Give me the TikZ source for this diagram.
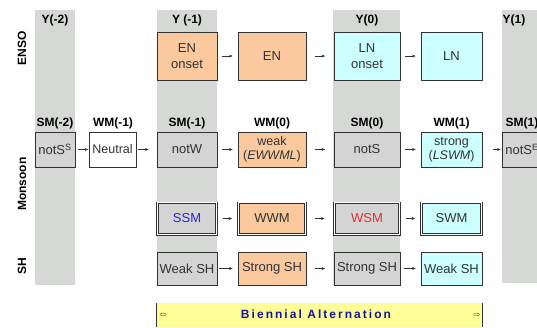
\documentclass[tikz,border=0pt]{standalone}
\usepackage{fontspec}
\setmainfont{Liberation Sans}
\newfontfamily\dejavu{DejaVu Sans}
\newfontfamily\spacedfont{Liberation Sans}[LetterSpace=17]
\usetikzlibrary{arrows.meta}
\definecolor{orng}{RGB}{250,202,158}
\definecolor{cyn}{RGB}{204,255,255}
\definecolor{gbox}{RGB}{212,212,212}
\definecolor{gcol}{RGB}{214,216,214}
\definecolor{edgec}{RGB}{50,50,50}
\definecolor{txtc}{RGB}{50,50,50}
\definecolor{ylw}{RGB}{255,255,153}
\definecolor{ssmblue}{RGB}{40,40,200}
\definecolor{wsmred}{RGB}{220,50,50}
\definecolor{bablue}{RGB}{20,20,160}
\begin{document}
\begin{tikzpicture}[x=1pt,y=-1pt,
  box/.style={draw=edgec, line width=0.8pt, inner sep=0pt, align=center, text=txtc,
    font=\fontsize{13}{15.5}\selectfont},
  dbox/.style={box, line width=0.9pt},
  innerframe/.style={draw=edgec, line width=0.8pt},
  gapframe/.style={draw=white, line width=1pt},
  lab/.style={font=\fontsize{12}{14}\selectfont\bfseries, inner sep=0pt, text=black},
  rowlab/.style={lab, rotate=90},
  rA/.style={minimum height=48pt},
  rB/.style={minimum height=35pt},
  rC/.style={minimum height=33pt},
  conn/.style={-{Stealth[length=3.5pt,width=3pt]}, line width=0.6pt, draw=edgec,
    shorten <=5pt, shorten >=5pt},
  wide/.style={shorten <=8.5pt, shorten >=8.5pt}]
\useasboundingbox (0,0) rectangle (537,327);
% gray year columns
\fill[gcol] (35,10) rectangle (75,285);
\fill[gcol] (157,10) rectangle (217,285);
\fill[gcol] (333,10) rectangle (400,285);
\fill[gcol] (502,10) rectangle (545,283);
% row labels
\node[rowlab] (lenso) at (22,48) {ENSO};
\node[rowlab] (lmon) at (22,184) {Monsoon};
\node[rowlab] (lsh) at (22,266) {SH};
% year labels
\node[lab] (y2) at (55,20) {Y(-2)};
\node[lab] (y1) at (187,20) {Y (-1)};
\node[lab] (y0) at (367,20) {Y(0)};
\node[lab] (yp1) at (514,20) {Y(1)};
% season labels
\node[lab] (lsm2) at (55,123) {SM(-2)};
\node[lab] (lwm1) at (113,123) {WM(-1)};
\node[lab] (lsm1) at (187,123) {SM(-1)};
\node[lab] (lwm0) at (272,123) {WM(0)};
\node[lab] (lsm0) at (367,123) {SM(0)};
\node[lab] (lwmp) at (451.5,123) {WM(1)};
\node[lab] (lsmp) at (522,123) {SM(1)};
% row 1: ENSO
\node[box, rA, fill=orng, minimum width=60pt] (enon) at (187,56) {EN\\onset};
\node[box, rA, fill=orng, minimum width=68pt] (en) at (272,56) {EN};
\node[box, rA, fill=cyn, minimum width=66pt] (lnon) at (367,56) {LN\\onset};
\node[box, rA, fill=cyn, minimum width=61pt] (ln) at (451.5,56) {LN};
% row 2: monsoon seasons
\node[box, rB, fill=gbox, minimum width=40pt] (sm2) at (55,149.5) {notS\textsuperscript{S}};
\node[box, rB, fill=white, minimum width=47pt, font=\fontsize{12.5}{15}\selectfont] (wm1) at (112.5,149.5) {Neutral};
\node[box, rB, fill=gbox, minimum width=60pt] (smm1) at (187,149.5) {notW};
\node[box, rB, fill=orng, minimum width=68pt, font=\fontsize{12.5}{13.5}\selectfont] (wm0) at (272,149.5) {weak\\(\textit{EWWML})};
\node[box, rB, fill=gbox, minimum width=66pt] (sm0) at (367,149.5) {notS};
\node[box, rB, fill=cyn, minimum width=61pt, font=\fontsize{12.5}{13.5}\selectfont] (wmp) at (451.5,149.5) {strong\\(\textit{LSWM})};
\node[box, rB, fill=gbox, minimum width=40pt] (smp) at (522,149.5) {notS\textsuperscript{E}};
% row 3: monsoon types (double frame)
\node[dbox, rC, fill=gbox, minimum width=61pt, text=ssmblue] (ssm) at (187,218.5) {SSM};
\node[dbox, rC, fill=orng, minimum width=69pt] (wwm) at (272,218.5) {WWM};
\node[dbox, rC, fill=gbox, minimum width=67pt, text=wsmred] (wsm) at (367,218.5) {WSM};
\node[dbox, rC, fill=cyn, minimum width=62pt] (swm) at (451.5,218.5) {SWM};
\foreach \n in {ssm,wwm,wsm,swm}{
  \draw[gapframe] ([shift={(1.3pt,-1.3pt)}]\n.north west) rectangle ([shift={(-1.3pt,1.3pt)}]\n.south east);
  \draw[innerframe] ([shift={(2.3pt,-2.3pt)}]\n.north west) rectangle ([shift={(-2.3pt,2.3pt)}]\n.south east);
}
% row 4: SH
\node[box, rC, fill=gbox, minimum width=60pt] (sha) at (187,268.5) {Weak SH};
\node[box, rC, fill=orng, minimum width=68pt] (shb) at (272,268.5) {Strong SH};
\node[box, rC, fill=gbox, minimum width=66pt] (shc) at (367,268.5) {Strong SH};
\node[box, rC, fill=cyn, minimum width=61pt] (shd) at (451.5,268.5) {Weak SH};
% connectors
\draw[conn] (enon) -- (en);
\draw[conn, wide] (en) -- (lnon);
\draw[conn] (lnon) -- (ln);
\draw[conn, shorten <=3pt, shorten >=0.5pt] (sm2) -- (wm1);
\draw[conn, shorten <=2pt, shorten >=8pt] (wm1) -- (smm1);
\draw[conn] (smm1) -- (wm0);
\draw[conn, wide] (wm0) -- (sm0);
\draw[conn] (sm0) -- (wmp);
\draw[conn, shorten <=11pt, shorten >=1pt] (wmp) -- (smp);
\draw[conn] (ssm) -- (wwm);
\draw[conn, wide] (wwm) -- (wsm);
\draw[conn] (wsm) -- (swm);
\draw[conn, shorten <=2pt, shorten >=5pt] (sha) -- (shb);
\draw[conn, wide] (shb) -- (shc);
\draw[conn, shorten <=4pt, shorten >=5pt] (shc) -- (shd);
% biennial bar
\node[fill=ylw, minimum width=325pt, minimum height=24pt, inner sep=0pt] (bar) at (319.5,315) {};
\draw[edgec, line width=0.8pt] (bar.north west) -- (bar.south west);
\draw[edgec, line width=0.8pt] (bar.north east) -- (bar.south east);
\node[inner sep=0pt, text=bablue, font=\spacedfont\fontsize{12}{14}\selectfont\bfseries] (batext) at (316,314.5) {Biennial Alternation};
\node[inner sep=0pt, text=edgec, font=\dejavu\fontsize{8}{10}\selectfont] (larr) at (163,315) {⇦};
\node[inner sep=0pt, text=edgec, font=\dejavu\fontsize{8}{10}\selectfont] (rarr) at (477,315) {⇨};
\end{tikzpicture}
\end{document}
